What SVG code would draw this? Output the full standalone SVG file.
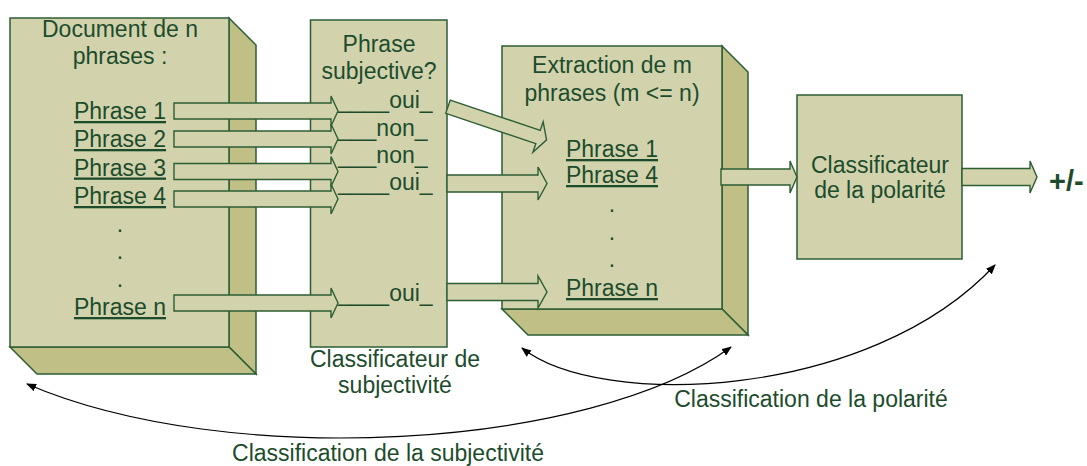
<svg xmlns="http://www.w3.org/2000/svg" width="1087" height="466" viewBox="0 0 1087 466">
<style>
.front{fill:#d2d3ad;stroke:#2c5e34;stroke-width:1.5}
.side{fill:#bfbf86;stroke:#2c5e34;stroke-width:1.5}
.blk{fill:#d2d3ad;stroke:#2c5e34;stroke-width:1.4}
text{font-family:"Liberation Sans",Arial,sans-serif;font-size:23px;fill:#1c4c2c}
.c{text-anchor:middle}
.u{text-decoration:underline}
.curve{fill:none;stroke:#000;stroke-width:1.2}
</style>
<defs>
<marker id="ah" viewBox="0 0 10 8" refX="9" refY="4" markerWidth="10" markerHeight="8" markerUnits="userSpaceOnUse" orient="auto-start-reverse">
<path d="M0,0 L10,4 L0,8 Z" fill="#000"/>
</marker>
</defs>
<g id="doc">
<polygon class="side" points="229,18 256,45 256,374 229,347"/>
<polygon class="side" points="10,347 229,347 256,374 37,374"/>
<rect class="front" x="10" y="18" width="219" height="329"/>
<text class="c" x="120" y="37">Document de n</text>
<text class="c" x="120" y="64">phrases :</text>
<text class="c u" x="120" y="119">Phrase 1</text>
<text class="c u" x="120" y="147">Phrase 2</text>
<text class="c u" x="120" y="175.5">Phrase 3</text>
<text class="c u" x="120" y="204">Phrase 4</text>
<text class="c" x="120" y="232">.</text>
<text class="c" x="120" y="259">.</text>
<text class="c" x="120" y="287">.</text>
<text class="c u" x="120" y="315">Phrase n</text>
</g>
<g id="subj">
<rect class="front" x="310.5" y="20" width="136.5" height="327"/>
<text class="c" x="379" y="52">Phrase</text>
<text class="c" x="379" y="79">subjective?</text>
<text x="338" y="108">____oui_</text>
<text x="338" y="136">___non_</text>
<text x="338" y="163">___non_</text>
<text x="338" y="190">____oui_</text>
<text x="338" y="301">____oui_</text>
<text class="c" x="395" y="366.5">Classificateur de</text>
<text class="c" x="395" y="393">subjectivité</text>
</g>
<g id="extract">
<polygon class="side" points="722,46 748,72 748,335 722,309"/>
<polygon class="side" points="502,309 722,309 748,335 528,335"/>
<rect class="front" x="502" y="46" width="220" height="263"/>
<text class="c" x="612" y="73">Extraction de m</text>
<text class="c" x="612" y="100.5">phrases (m &lt;= n)</text>
<text class="c u" x="612" y="157">Phrase 1</text>
<text class="c u" x="612" y="183">Phrase 4</text>
<text class="c" x="612" y="212">.</text>
<text class="c" x="612" y="240">.</text>
<text class="c" x="612" y="267">.</text>
<text class="c u" x="612" y="296">Phrase n</text>
</g>
<g id="polar">
<rect class="front" x="797" y="95" width="165" height="164"/>
<text class="c" x="880" y="173">Classificateur</text>
<text class="c" x="880" y="198">de la polarité</text>
</g>
<g id="output">
<text x="1049" y="191" style="font-weight:bold;font-size:29px">+/-</text>
</g>
<g id="connectors">
<polygon class="blk" points="174,103 331,103 331,96 338,111 331,126 331,119 174,119"/>
<polygon class="blk" points="174,131 331,131 331,124 338,139 331,154 331,147 174,147"/>
<polygon class="blk" points="174,163.5 331,163.5 331,156.5 338,171.5 331,186.5 331,179.5 174,179.5"/>
<polygon class="blk" points="174,191 331,191 331,184 338,199 331,214 331,207 174,207"/>
<polygon class="blk" points="174,295 331,295 331,288 338,303 331,318 331,311 174,311"/>
<polygon class="blk" transform="translate(448,106.7) rotate(18.6)" points="0,-7 95,-7 95,-16 104,0 95,16 95,7 0,7"/>
<polygon class="blk" points="447,175 538,175 538,167 547,183.5 538,200 538,192 447,192"/>
<polygon class="blk" points="447,283.5 538,283.5 538,276 547,292 538,308 538,300.5 447,300.5"/>
<polygon class="blk" points="721,169 790,169 790,161 797,177 790,193 790,185 721,185"/>
<polygon class="blk" points="962,168.5 1030,168.5 1030,161 1037,177 1030,193 1030,185.5 962,185.5"/>
<path class="curve" d="M27,384 C227,470 590,450 731,347" marker-start="url(#ah)" marker-end="url(#ah)"/>
<path class="curve" d="M522,348 C600,410 870,400 995,265" marker-start="url(#ah)" marker-end="url(#ah)"/>
<text class="c" x="811" y="407">Classification de la polarité</text>
<text class="c" x="388" y="461">Classification de la subjectivité</text>
</g>
</svg>
